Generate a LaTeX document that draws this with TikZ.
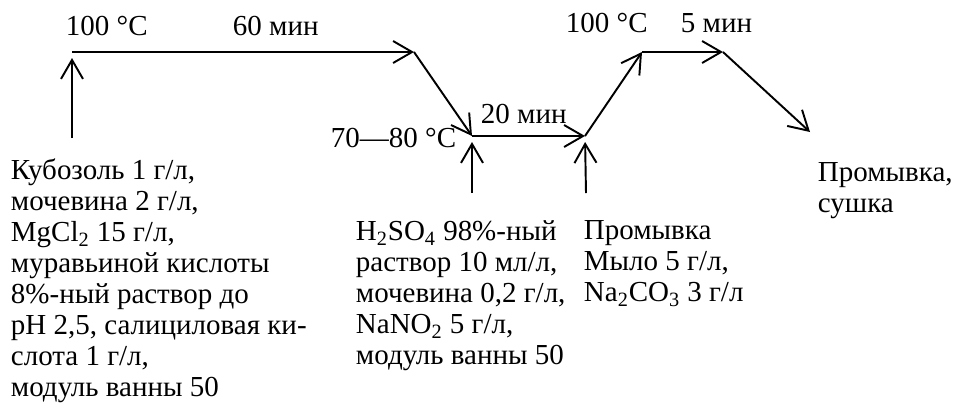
\documentclass[tikz,border=0pt]{standalone}
\usepackage{fontspec}
\setmainfont{Liberation Serif}
\usetikzlibrary{arrows.meta}

\begin{document}
\begin{tikzpicture}[x=0.02cm, y=-0.02cm, line width=1.1pt,
  font={\fontsize{16.5}{17.6}\selectfont},
  every node/.style={inner sep=0pt},
  flow/.style={-{Straight Barb[length=0.38cm,width=0.44cm]}},
  feed/.style={flow, shorten >=0.12cm},
  lbl/.style={anchor=base west},
  recipe/.style={anchor=north west, align=left}]
\useasboundingbox (0,0) rectangle (957,407);
\coordinate (s) at (72,52);
\coordinate (b) at (414,52);
\coordinate (c) at (472,136);
\coordinate (d) at (585,136);
\coordinate (e) at (642,52);
\coordinate (f) at (723,52);
\coordinate (g) at (810,132);
\coordinate (u1) at (72,138);
\coordinate (u2) at (472,193);
\coordinate (u3) at (586,193);
\draw[flow] (s) -- (b);
\draw[flow] (b) -- (c);
\draw[flow] (c) -- (d);
\draw[flow] (d) -- (e);
\draw[flow] (e) -- (f);
\draw[flow] (f) -- (g);
\draw[feed] (u1) -- (s);
\draw[feed] (u2) -- (c);
\draw[feed] (u3) -- (d);
\node[lbl] (temp1) at (65,35) {100 °C};
\node[lbl] (time1) at (232,35) {60 мин};
\node[lbl] (temp2) at (330,147) {70—80 °C};
\node[lbl] (time2) at (480,123) {20 мин};
\node[lbl] (temp3) at (565,32) {100 °C};
\node[lbl] (time3) at (680,32) {5 мин};
\node[recipe] (wash) at (817,162) {Промывка,\\сушка};
\node[recipe] (dye) at (10,158) {Кубозоль 1 г/л,\\мочевина 2 г/л,\\MgCl\textsubscript{2} 15 г/л,\\муравьиной кислоты\\8\%-ный раствор до\\pH 2,5, салициловая ки-\\слота 1 г/л,\\модуль ванны 50};
\node[recipe] (acid) at (355,220) {H\textsubscript{2}SO\textsubscript{4} 98\%-ный\\раствор 10 мл/л,\\мочевина 0,2 г/л,\\NaNO\textsubscript{2} 5 г/л,\\модуль ванны 50};
\node[recipe] (soap) at (583,220) {Промывка\\Мыло 5 г/л,\\Na\textsubscript{2}CO\textsubscript{3} 3 г/л};
\end{tikzpicture}
\end{document}
